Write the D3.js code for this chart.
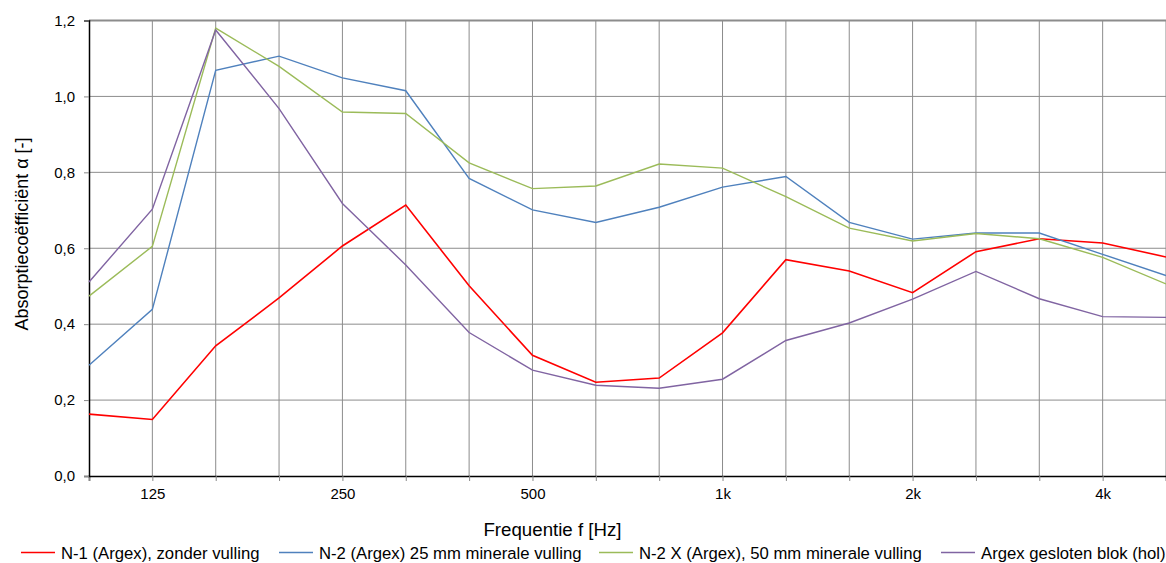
<!DOCTYPE html>
<html>
<head>
<meta charset="utf-8">
<script src="https://cdn.jsdelivr.net/npm/d3@7"></script>
<style>
  body { margin: 0; background: #fff; }
  svg { font-family: "Liberation Sans", Arial, sans-serif; }
</style>
</head>
<body>
<svg id="chart" width="1166" height="563"></svg>
<script>
// third-octave bands, 100 Hz .. 5 kHz
const freqs = ['100', '125', '160', '200', '250', '315', '400', '500', '630', '800',
               '1k', '1.25k', '1.6k', '2k', '2.5k', '3.15k', '4k', '5k'];
const shownTicks = ['125', '250', '500', '1k', '2k', '4k'];
const yTicks = [0, 0.2, 0.4, 0.6, 0.8, 1.0, 1.2];

const n1 = [0.163, 0.149, 0.343, 0.469, 0.606, 0.714, 0.501, 0.318, 0.247, 0.258,
            0.377, 0.570, 0.540, 0.483, 0.591, 0.625, 0.614, 0.577];
const n2 = [0.292, 0.439, 1.069, 1.106, 1.049, 1.015, 0.784, 0.701, 0.668, 0.708,
            0.761, 0.789, 0.668, 0.624, 0.640, 0.640, 0.584, 0.528];
const n2x = [0.474, 0.605, 1.180, 1.079, 0.959, 0.955, 0.825, 0.757, 0.764, 0.822,
             0.811, 0.736, 0.653, 0.619, 0.639, 0.625, 0.576, 0.506];
const hol = [0.511, 0.703, 1.175, 0.968, 0.718, 0.556, 0.378, 0.279, 0.239, 0.231,
             0.255, 0.357, 0.403, 0.466, 0.539, 0.467, 0.420, 0.418];

const seriesNames = ['N-1 (Argex), zonder vulling', 'N-2 (Argex) 25 mm minerale vulling',
                     'N-2 X (Argex), 50 mm minerale vulling', 'Argex gesloten blok (hol)'];
const seriesColors = ['#ff0000', '#4f81bd', '#9bbb59', '#8064a2'];
const seriesData = [n1, n2, n2x, hol];

const margin = { left: 89, right: 0, top: 20.5, bottom: 87 };
const width = 1166, height = 563;
const font = '"Liberation Sans", Arial, sans-serif';

const svg = d3.select('#chart');

const x = d3.scalePoint()
    .domain(freqs)
    .range([margin.left, width - margin.right]);

const y = d3.scaleLinear()
    .domain([0, 1.2])
    .range([height - margin.bottom, margin.top]);

// GRID
svg.append('g')
    .selectAll('line')
    .data(freqs.slice(1))
    .enter().append('line')
    .attr('x1', d => x(d)).attr('x2', d => x(d))
    .attr('y1', y(0)).attr('y2', y(1.2))
    .attr('stroke', '#8c8c8c')
    .attr('stroke-width', 1);

svg.append('g')
    .selectAll('line')
    .data(yTicks.slice(1))
    .enter().append('line')
    .attr('x1', margin.left).attr('x2', width)
    .attr('y1', d => y(d)).attr('y2', d => y(d))
    .attr('stroke', '#8c8c8c')
    .attr('stroke-width', d => d === 1.2 ? 2 : 1);

// AXES
const xAxis = svg.append('g')
    .attr('transform', `translate(0,${y(0)})`)
    .call(d3.axisBottom(x)
        .tickSize(5)
        .tickPadding(7)
        .tickFormat(d => shownTicks.includes(d) ? d : ''));
xAxis.select('.domain').attr('stroke', '#000').attr('stroke-width', 1.5);
xAxis.selectAll('.tick line').attr('stroke', '#888');
xAxis.selectAll('text').attr('font-size', '15px').attr('fill', '#000')
    .attr('font-family', font);

const yAxis = svg.append('g')
    .attr('transform', `translate(${margin.left},0)`)
    .call(d3.axisLeft(y)
        .tickValues(yTicks)
        .tickSize(5)
        .tickPadding(9)
        .tickFormat(d => d3.format('.1f')(d).replace('.', ',')));
yAxis.select('.domain').attr('stroke', '#000').attr('stroke-width', 1.5);
yAxis.selectAll('.tick line').attr('stroke', '#888');
yAxis.selectAll('text').attr('font-size', '15px').attr('fill', '#000')
    .attr('font-family', font);

// LINES
const line = d3.line()
    .x((d, i) => x(freqs[i]))
    .y(d => y(d));

svg.append('g')
    .selectAll('path')
    .data(seriesData)
    .enter().append('path')
    .attr('d', d => line(d))
    .attr('fill', 'none')
    .attr('stroke', (d, i) => seriesColors[i])
    .attr('stroke-width', (d, i) => i === 0 ? 1.6 : 1.4);

// TITLES
svg.append('text')
    .attr('x', 552.5)
    .attr('y', 536)
    .attr('text-anchor', 'middle')
    .attr('font-size', '18.7px')
    .text('Frequentie f [Hz]');

svg.append('text')
    .attr('transform', 'translate(28,234) rotate(-90)')
    .attr('text-anchor', 'middle')
    .attr('font-size', '18px')
    .text('Absorptiecoëfficiënt α [-]');

// LEGEND
const legendX = [21, 279, 599, 941];
const legend = svg.append('g')
    .selectAll('g')
    .data(seriesNames)
    .enter().append('g')
    .attr('transform', (d, i) => `translate(${legendX[i]},552.5)`);

legend.append('line')
    .attr('x1', 0).attr('x2', 34)
    .attr('stroke', (d, i) => seriesColors[i])
    .attr('stroke-width', 1.6);

legend.append('text')
    .attr('x', 40)
    .attr('dy', '0.36em')
    .attr('font-size', '16.7px')
    .text(d => d);
</script>
</body>
</html>
